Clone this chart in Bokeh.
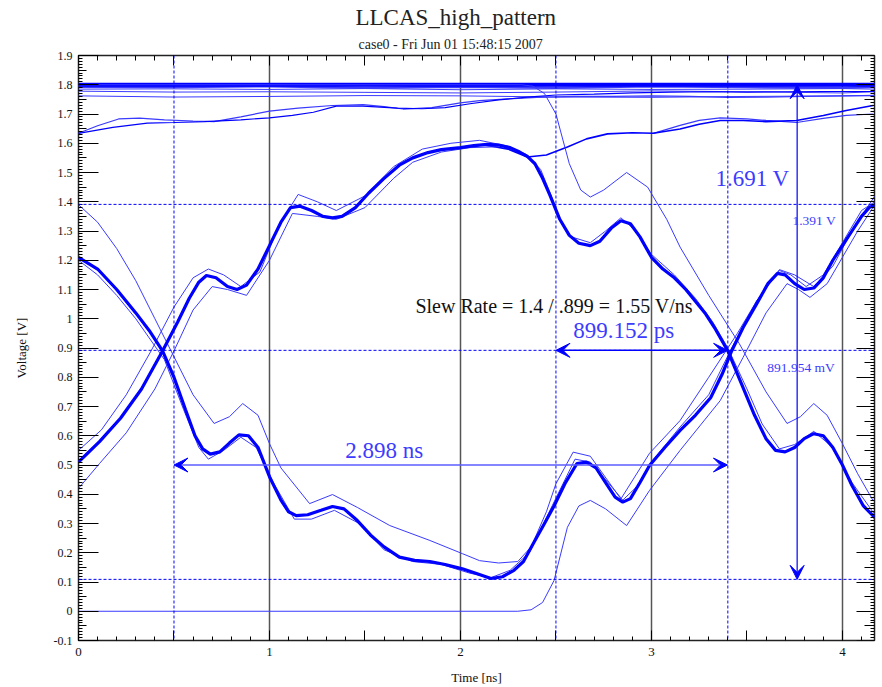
from bokeh.plotting import figure
from bokeh.models import Range1d, LinearAxis, FixedTicker, Span, Arrow, VeeHead, Label, Title
from bokeh.embed import file_html
from bokeh.resources import INLINE

SERIF = "Liberation Serif"
BLUE = "#0000ff"
THIN = "#3a3aff"
TXT_BLUE = "#3c3cff"

# ---------------- data ----------------
# top band of "always high" traces
T_x = [0, 0.5, 1.0, 1.5, 2.0, 2.5, 3.0, 3.5, 4.0, 4.17]
T1_y = [1.8, 1.8, 1.8, 1.8, 1.8, 1.8, 1.8, 1.8, 1.8, 1.8]
T2_y = [1.793, 1.792, 1.795, 1.79, 1.793, 1.79, 1.795, 1.792, 1.79, 1.793]
T3_y = [1.785, 1.786, 1.784, 1.787, 1.783, 1.786, 1.784, 1.785, 1.787, 1.785]
T4_y = [1.778, 1.775, 1.776, 1.774, 1.772, 1.775, 1.779, 1.776, 1.772, 1.776]
T5_y = [1.762, 1.758, 1.76, 1.763, 1.762, 1.758, 1.757, 1.76, 1.762, 1.764]

# wavy near-high traces
W1_x = [0, 0.1, 0.21, 0.32, 0.45, 0.6, 0.71, 0.85, 1.0, 1.15, 1.33, 1.49, 1.6, 1.7, 1.85, 2.0,
        2.1, 2.25, 2.4, 2.6, 2.8, 3.0, 3.2, 3.4, 3.6, 3.8, 4.0, 4.17]
W1_y = [1.634, 1.66, 1.683, 1.686, 1.68, 1.676, 1.674, 1.69, 1.71, 1.72, 1.729, 1.732, 1.725,
        1.717, 1.722, 1.738, 1.746, 1.752, 1.757, 1.76, 1.76, 1.762, 1.76, 1.757, 1.758, 1.76,
        1.762, 1.763]
W2_x = [0, 0.18, 0.36, 0.5, 0.66, 0.85, 1.0, 1.12, 1.23, 1.35, 1.49, 1.67, 1.8, 1.92, 2.05, 2.2,
        2.35, 2.5, 2.7, 2.9, 3.1, 3.3, 3.5, 3.7, 3.9, 4.17]
W2_y = [1.634, 1.654, 1.669, 1.671, 1.674, 1.68, 1.687, 1.695, 1.706, 1.727, 1.727, 1.72, 1.718,
        1.722, 1.735, 1.748, 1.758, 1.765, 1.768, 1.772, 1.775, 1.776, 1.775, 1.776, 1.777, 1.777]
S_x = [2.0, 2.12, 2.25, 2.35, 2.45, 2.56, 2.66, 2.77, 2.9, 3.01, 3.15, 3.25, 3.36, 3.48, 3.6,
       3.76, 3.9, 4.02, 4.16]
S_y = [1.585, 1.595, 1.58, 1.553, 1.56, 1.587, 1.615, 1.632, 1.636, 1.634, 1.649, 1.665, 1.678,
       1.678, 1.674, 1.678, 1.695, 1.712, 1.729]
S2_x = [3.01, 3.15, 3.25, 3.36, 3.5, 3.6, 3.76, 3.9, 4.02, 4.16]
S2_y = [1.634, 1.661, 1.678, 1.687, 1.683, 1.678, 1.671, 1.685, 1.695, 1.70]

# main eye traces (thick bundles)
A_x = [0, 0.11, 0.22, 0.33, 0.44, 0.52, 0.58, 0.63, 0.67, 0.72, 0.78, 0.83, 0.88, 0.94, 1.0,
       1.06, 1.11, 1.16, 1.22, 1.28, 1.33, 1.38, 1.45, 1.52, 1.6, 1.68, 1.75, 1.83, 1.9, 2.0,
       2.07, 2.14, 2.2, 2.26, 2.31, 2.35, 2.39, 2.43, 2.47, 2.52, 2.57, 2.62, 2.68, 2.73, 2.79,
       2.84, 2.89, 2.94, 3.0, 3.06, 3.12, 3.18, 3.23, 3.28, 3.33, 3.4, 3.47, 3.54, 3.6, 3.65,
       3.7, 3.75, 3.8, 3.85, 3.9, 3.95, 4.0, 4.05, 4.11, 4.17]
A_y = [0.51, 0.58, 0.66, 0.76, 0.89, 0.99, 1.07, 1.125, 1.148, 1.14, 1.11, 1.1, 1.115, 1.17,
       1.25, 1.33, 1.38, 1.385, 1.37, 1.35, 1.345, 1.35, 1.38, 1.43, 1.48, 1.525, 1.55, 1.568,
       1.578, 1.585, 1.592, 1.596, 1.594, 1.585, 1.57, 1.555, 1.53, 1.48, 1.42, 1.34, 1.285,
       1.258, 1.25, 1.265, 1.31, 1.335, 1.325, 1.28, 1.21, 1.17, 1.14, 1.1, 1.06, 1.02, 0.97,
       0.89, 0.78, 0.67, 0.59, 0.55, 0.545, 0.56, 0.59, 0.607, 0.6, 0.56, 0.5, 0.43, 0.36, 0.32]
B_x = [0, 0.1, 0.2, 0.3, 0.37, 0.44, 0.5, 0.56, 0.61, 0.65, 0.69, 0.74, 0.79, 0.84, 0.89, 0.94,
       1.0, 1.06, 1.1, 1.14, 1.2, 1.27, 1.33, 1.39, 1.46, 1.53, 1.6, 1.68, 1.76, 1.84, 1.92,
       2.01, 2.08, 2.16, 2.22, 2.28, 2.33, 2.38, 2.44, 2.49, 2.55, 2.61, 2.66, 2.71, 2.76, 2.81,
       2.85, 2.89, 2.94, 2.99, 3.07, 3.15, 3.23, 3.31, 3.37, 3.42, 3.48, 3.55, 3.61, 3.66, 3.7,
       3.75, 3.8, 3.85, 3.9, 3.95, 4.0, 4.05, 4.1, 4.14, 4.17]
B_y = [1.21, 1.17, 1.1, 1.02, 0.96, 0.89, 0.8, 0.69, 0.6, 0.555, 0.537, 0.545, 0.575, 0.603,
       0.6, 0.56, 0.46, 0.38, 0.34, 0.327, 0.33, 0.345, 0.358, 0.35, 0.31, 0.26, 0.22, 0.185,
       0.174, 0.17, 0.16, 0.145, 0.13, 0.112, 0.118, 0.14, 0.17, 0.23, 0.3, 0.36, 0.44, 0.505,
       0.51, 0.49, 0.44, 0.39, 0.373, 0.385, 0.44, 0.498, 0.56, 0.618, 0.67, 0.73, 0.81, 0.89,
       0.97, 1.05, 1.12, 1.155, 1.15, 1.12, 1.1, 1.105, 1.14, 1.2, 1.25, 1.3, 1.35, 1.38, 1.39]

# thin companions of the bundles
Ahi_x = [0, 0.12, 0.25, 0.38, 0.5, 0.6, 0.68, 0.76, 0.85, 0.95, 1.05, 1.15, 1.25, 1.35, 1.5,
         1.65, 1.8, 1.95, 2.1, 2.25, 2.35, 2.42, 2.47, 2.52, 2.58, 2.68, 2.76, 2.84, 2.92, 3.0,
         3.12, 3.23, 3.32, 3.4, 3.5, 3.58, 3.67, 3.75, 3.85, 3.95, 4.05, 4.17]
Ahi_y = [0.55, 0.62, 0.74, 0.89, 1.04, 1.14, 1.17, 1.15, 1.11, 1.16, 1.32, 1.425, 1.4, 1.37, 1.42,
         1.52, 1.58, 1.6, 1.61, 1.59, 1.56, 1.51, 1.43, 1.34, 1.28, 1.26, 1.3, 1.345, 1.3, 1.22,
         1.15, 1.07, 0.99, 0.9, 0.76, 0.64, 0.555, 0.57, 0.615, 0.56, 0.44, 0.33]
Alo_x = [0, 0.11, 0.25, 0.4, 0.5, 0.6, 0.7, 0.78, 0.88, 1.0, 1.12, 1.25, 1.35, 1.5, 1.65, 1.75,
         1.9, 2.05, 2.2]
Alo_y = [0.42, 0.505, 0.61, 0.76, 0.89, 1.03, 1.11, 1.1, 1.08, 1.2, 1.36, 1.35, 1.34, 1.38, 1.48,
         1.535, 1.57, 1.585, 1.588]
B2_x = [0, 0.1, 0.2, 0.3, 0.45, 0.55, 0.63, 0.68, 0.76, 0.85, 0.93, 1.02, 1.13, 1.22, 1.34, 1.47,
        1.6, 1.75, 1.9, 2.05, 2.16, 2.26, 2.36, 2.48, 2.6, 2.68, 2.76, 2.85, 2.93, 3.0, 3.15,
        3.3, 3.42, 3.55, 3.67, 3.73, 3.81, 3.9, 4.0, 4.1, 4.17]
B2_y = [1.2, 1.15, 1.08, 1.0, 0.86, 0.69, 0.56, 0.52, 0.55, 0.595, 0.56, 0.44, 0.315, 0.315,
        0.345, 0.3, 0.21, 0.17, 0.16, 0.13, 0.115, 0.14, 0.2, 0.36, 0.52, 0.51, 0.45, 0.38, 0.43,
        0.51, 0.63, 0.74, 0.9, 1.06, 1.165, 1.15, 1.11, 1.15, 1.26, 1.37, 1.40]

# outlier traces
O1_x = [0, 0.1, 0.2, 0.3, 0.4, 0.5, 0.6, 0.71, 0.79, 0.86, 0.94, 1.0, 1.06, 1.21, 1.33, 1.46,
        1.63, 1.84, 2.01, 2.1, 2.2, 2.3, 2.37, 2.45, 2.5, 2.59, 2.68, 2.84, 2.99, 3.15, 3.3,
        3.45, 3.55, 3.67, 3.75, 3.85, 3.95, 4.05, 4.17]
O1_y = [1.39, 1.33, 1.24, 1.13, 1.0, 0.87, 0.74, 0.642, 0.665, 0.71, 0.67, 0.573, 0.49, 0.368,
        0.399, 0.355, 0.293, 0.242, 0.197, 0.173, 0.165, 0.17, 0.22, 0.34, 0.436, 0.544, 0.53,
        0.384, 0.54, 0.652, 0.8, 0.95, 1.06, 1.168, 1.15, 1.11, 1.18, 1.3, 1.42]
O2_x = [0, 0.5, 1.0, 1.5, 2.0, 2.3, 2.37, 2.43, 2.49, 2.56, 2.62, 2.68, 2.76, 2.87, 2.99, 3.15,
        3.36, 3.48, 3.6, 3.71, 3.77, 3.83, 3.92, 4.0, 4.08, 4.16]
O2_y = [0, 0, 0, 0, 0, 0, 0.005, 0.03, 0.105, 0.287, 0.36, 0.379, 0.35, 0.293, 0.413, 0.55,
        0.72, 0.868, 1.02, 1.12, 1.1, 1.073, 1.12, 1.21, 1.3, 1.38]
O3_x = [0, 1.0, 2.0, 2.32, 2.38, 2.44, 2.5, 2.57, 2.63, 2.68, 2.75, 2.87, 2.98, 3.08, 3.15, 3.3,
        3.46, 3.6, 3.71, 3.78, 3.85, 3.92, 4.0, 4.08, 4.16]
O3_y = [1.8, 1.8, 1.8, 1.8, 1.795, 1.77, 1.70, 1.53, 1.44, 1.416, 1.44, 1.5, 1.45, 1.34, 1.245,
        1.08, 0.915, 0.75, 0.642, 0.665, 0.71, 0.67, 0.573, 0.47, 0.379]

# cursors and measurements
cursor_x = [0.5, 2.5, 3.4]
cursor_y = [0.109, 0.892, 1.391]
meas_time_ps = [2.5, 3.399, 0.892]     # x_start, x_end, y
meas_time_ns = [0.5, 3.398, 0.5]
meas_volt = [3.763, 0.109, 1.8]        # x, y_start, y_end

# ticks
x_ticks = [0, 0.5, 1, 1.5, 2, 2.5, 3, 3.5, 4]
x_tick_labels = ["0", "", "1", "", "2", "", "3", "", "4"]
y_ticks = [-0.1, 0.0, 0.1, 0.2, 0.3, 0.4, 0.5, 0.6, 0.7, 0.8, 0.9, 1.0, 1.1, 1.2, 1.3, 1.4, 1.5,
           1.6, 1.7, 1.8, 1.9]
y_tick_labels = ["-0.1", "0", "0.1", "0.2", "0.3", "0.4", "0.5", "0.6", "0.7", "0.8", "0.9", "1",
                 "1.1", "1.2", "1.3", "1.4", "1.5", "1.6", "1.7", "1.8", "1.9"]
y_mid_ticks = [-0.05, 0.05, 0.15, 0.25, 0.35, 0.45, 0.55, 0.65, 0.75, 0.85, 0.95, 1.05, 1.15,
               1.25, 1.35, 1.45, 1.55, 1.65, 1.75, 1.85]
x_minor = [round(0.1 * i, 1) for i in range(42)]
y_minor = [round(-0.1 + 0.01 * i, 2) for i in range(201)]
grid_x = [1, 2, 3, 4]

X_END = 4.168

p = figure(width=882, height=687, x_range=Range1d(0, X_END), y_range=Range1d(-0.1, 1.9),
           output_backend="svg", toolbar_location=None,
           min_border_left=78, min_border_right=8, min_border_top=55, min_border_bottom=47,
           background_fill_color="white", border_fill_color="white",
           outline_line_color="#222222", outline_line_width=1.5)

p.xgrid.ticker = FixedTicker(ticks=grid_x)
p.xgrid.grid_line_color = "#555555"
p.xgrid.grid_line_width = 1.5
p.ygrid.grid_line_color = None

xa = p.xaxis[0]
xa.ticker = FixedTicker(ticks=x_ticks, minor_ticks=x_minor)
xa.major_label_overrides = {t: s for t, s in zip(x_ticks, x_tick_labels)}
xa.axis_line_color = None
xa.major_tick_in = 10
xa.major_tick_out = 0
xa.minor_tick_in = 4
xa.minor_tick_out = 0
xa.major_tick_line_color = "black"
xa.minor_tick_line_color = "black"
xa.major_label_text_font = SERIF
xa.major_label_text_font_size = "13px"
xa.major_label_text_color = "#111111"
xa.major_label_standoff = 7
xa.axis_label = "Time [ns]"
xa.axis_label_text_font = SERIF
xa.axis_label_text_font_size = "13px"
xa.axis_label_text_font_style = "normal"
xa.axis_label_text_color = "#111111"
xa.axis_label_standoff = 11

ya = p.yaxis[0]
ya.ticker = FixedTicker(ticks=y_ticks, minor_ticks=y_minor)
ya.major_label_overrides = {t: s for t, s in zip(y_ticks, y_tick_labels)}
ya.axis_line_color = None
ya.major_tick_in = 20
ya.major_tick_out = 0
ya.minor_tick_in = 4
ya.minor_tick_out = 0
ya.major_tick_line_color = "black"
ya.minor_tick_line_color = "black"
ya.major_label_text_font = SERIF
ya.major_label_text_font_size = "12px"
ya.major_label_text_color = "#111111"
ya.major_label_standoff = 6
ya.axis_label = "Voltage [V]"
ya.axis_label_text_font = SERIF
ya.axis_label_text_font_size = "13px"
ya.axis_label_text_font_style = "normal"
ya.axis_label_text_color = "#111111"
ya.axis_label_standoff = 22


def deco(side, loc, ticks, minor, tin, min_in):
    ax = LinearAxis(ticker=FixedTicker(ticks=ticks, minor_ticks=minor), fixed_location=loc,
                    axis_line_color=None, major_label_text_color=None,
                    major_label_text_font_size="1px",
                    major_tick_in=tin, major_tick_out=0, minor_tick_in=min_in, minor_tick_out=0,
                    major_tick_line_color="black", minor_tick_line_color="black")
    p.add_layout(ax, side)


deco("left", 0, y_mid_ticks, [], 8, 0)
deco("right", X_END, y_ticks, y_minor, 18, 4)
deco("right", X_END, y_mid_ticks, [], 10, 0)
deco("above", 1.9, x_ticks, x_minor, 10, 5)

# titles
p.add_layout(Title(text="case0 - Fri Jun 01 15:48:15 2007", align="left", offset=280,
                   text_font=SERIF, text_font_size="14px", text_font_style="normal",
                   text_color="#222222", standoff=8), "above")
p.add_layout(Title(text="LLCAS_high_pattern", align="left", offset=277,
                   text_font=SERIF, text_font_size="23px", text_font_style="normal",
                   text_color="#222222", standoff=2), "above")

# ---------------- traces ----------------
for ty, w, c in [(T3_y, 1, THIN), (T4_y, 1, THIN), (T5_y, 1, THIN), (T2_y, 2.5, THIN), (T1_y, 4, BLUE)]:
    p.line(T_x, ty, line_color=c, line_width=w)

p.line(W1_x, W1_y, line_color=THIN, line_width=1.2)
p.line(W2_x, W2_y, line_color=BLUE, line_width=1.2)
p.line(S2_x, S2_y, line_color=THIN, line_width=1.2)
p.line(S_x, S_y, line_color=BLUE, line_width=1.6)

p.line(O1_x, O1_y, line_color=THIN, line_width=1)
p.line(O2_x, O2_y, line_color=THIN, line_width=1)
p.line(O3_x, O3_y, line_color=THIN, line_width=1)
p.line(Alo_x, Alo_y, line_color=THIN, line_width=1)
p.line(Ahi_x, Ahi_y, line_color=THIN, line_width=1)
p.line(B2_x, B2_y, line_color=THIN, line_width=1)
p.line(A_x, A_y, line_color=BLUE, line_width=3.2)
p.line(B_x, B_y, line_color=BLUE, line_width=3.2)

# ---------------- cursors ----------------
for xc in cursor_x:
    p.add_layout(Span(location=xc, dimension="height", line_color=BLUE, line_dash="3 2", line_width=1))
for yc in cursor_y:
    p.add_layout(Span(location=yc, dimension="width", line_color=BLUE, line_dash="3 2", line_width=1))


def head():
    return VeeHead(size=14, fill_color=BLUE, line_color=BLUE, line_width=1)


p.add_layout(Arrow(start=head(), end=head(), x_start=meas_time_ps[0], x_end=meas_time_ps[1],
                   y_start=meas_time_ps[2], y_end=meas_time_ps[2], line_color=BLUE, line_width=1.5))
p.add_layout(Arrow(start=head(), end=head(), x_start=meas_time_ns[0], x_end=meas_time_ns[1],
                   y_start=meas_time_ns[2], y_end=meas_time_ns[2], line_color="#5c5cff", line_width=1.5))
p.add_layout(Arrow(start=head(), end=head(), x_start=meas_volt[0], x_end=meas_volt[0],
                   y_start=meas_volt[1], y_end=meas_volt[2], line_color=BLUE, line_width=1.2))

labels = [
    (3.335, 1.48, "1.691 V", "23px", TXT_BLUE),
    (3.738, 1.336, "1.391 V", "13.5px", TXT_BLUE),
    (3.607, 0.833, "891.954 mV", "13.5px", TXT_BLUE),
    (2.591, 0.96, "899.152 ps", "23px", TXT_BLUE),
    (1.397, 0.55, "2.898 ns", "23px", TXT_BLUE),
    (1.764, 1.045, "Slew Rate = 1.4 / .899 = 1.55 V/ns", "20px", "#111111"),
]
for lx, ly, txt, fs, col in labels:
    p.add_layout(Label(x=lx, y=ly, text=txt, text_font=SERIF, text_font_size=fs,
                       text_color=col, text_baseline="middle", text_align="left"))

open("out.html", "w").write(file_html(p, INLINE))
